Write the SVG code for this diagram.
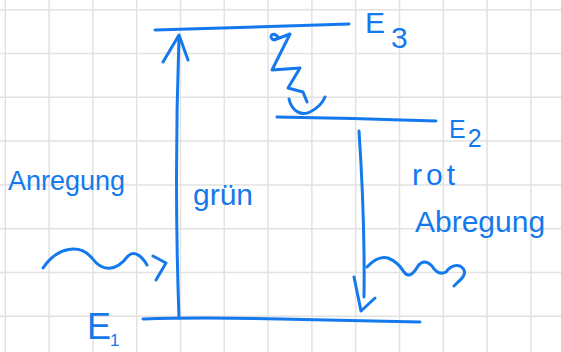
<svg xmlns="http://www.w3.org/2000/svg" width="561" height="352" viewBox="0 0 561 352">
<style>
.grid line{stroke:#e2e2e2;stroke-width:1.5}
.ink{fill:none;stroke:#1479ec;stroke-width:3;stroke-linecap:round;stroke-linejoin:round}
.lbl{fill:#1479ec;font-family:"Liberation Sans",Arial,sans-serif}
</style>
<rect width="561" height="352" fill="#ffffff"/>
<g class="grid">
<line x1="5.3" y1="0" x2="5.3" y2="352"/><line x1="49.1" y1="0" x2="49.1" y2="352"/><line x1="92.9" y1="0" x2="92.9" y2="352"/><line x1="136.7" y1="0" x2="136.7" y2="352"/><line x1="180.5" y1="0" x2="180.5" y2="352"/><line x1="224.3" y1="0" x2="224.3" y2="352"/><line x1="268.1" y1="0" x2="268.1" y2="352"/><line x1="311.9" y1="0" x2="311.9" y2="352"/><line x1="355.7" y1="0" x2="355.7" y2="352"/><line x1="399.5" y1="0" x2="399.5" y2="352"/><line x1="443.3" y1="0" x2="443.3" y2="352"/><line x1="487.1" y1="0" x2="487.1" y2="352"/><line x1="530.9" y1="0" x2="530.9" y2="352"/>
<line x1="0" y1="9.7" x2="561" y2="9.7"/><line x1="0" y1="53.5" x2="561" y2="53.5"/><line x1="0" y1="97.3" x2="561" y2="97.3"/><line x1="0" y1="141.1" x2="561" y2="141.1"/><line x1="0" y1="184.9" x2="561" y2="184.9"/><line x1="0" y1="228.7" x2="561" y2="228.7"/><line x1="0" y1="272.5" x2="561" y2="272.5"/><line x1="0" y1="316.3" x2="561" y2="316.3"/>
</g>
<g id="E3">
<path class="ink" d="M155,30 Q250,27 349,24"/>
<text class="lbl" x="365" y="33" font-size="30">E<tspan dx="6" dy="15">3</tspan></text>
</g>
<g id="E2">
<path class="ink" d="M277,117 Q350,118 436,121"/>
<text class="lbl" x="449" y="138" font-size="25">E<tspan dx="2" dy="9">2</tspan></text>
</g>
<g id="E1">
<path class="ink" d="M143,319 Q200,317 280,319 T420,322"/>
<text class="lbl" x="87" y="339" font-size="36">E<tspan dx="-1" dy="7" font-size="17">1</tspan></text>
</g>
<g id="connectors">
<path class="ink" d="M179,318 Q174,180 179,36"/>
<path class="ink" d="M163,62 L179,35 L188,60"/>
<path class="ink" d="M359,131 Q365,220 364,297"/>
<path class="ink" d="M354,277 L361,311 L375,298"/>
<path class="ink" d="M278,37 C272,30 268,38 274,40 L290,34 L272,70 L300,68 L288,88 L303,92 L307,102"/>
<path class="ink" d="M289,99 C292,112 302,116 310,112 C318,108 323,102 325,97"/>
<path class="ink" d="M43,268 C58,246 80,244 92,258 C102,272 116,272 128,256 C134,250 142,256 147,265"/>
<path class="ink" d="M153,256 L166,263 L156,280"/>
<path class="ink" d="M367,267 Q378,255 388,258 Q398,262 404,272 Q410,280 418,266 Q424,258 432,266 Q438,276 446,272 Q452,264 460,266 Q470,272 458,282 L454,286"/>
</g>
<g id="labels">
<text class="lbl" x="8" y="190" font-size="27">Anregung</text>
<text class="lbl" x="193" y="205" font-size="30">grün</text>
<text class="lbl" x="412" y="185" font-size="30" letter-spacing="4">rot</text>
<text class="lbl" x="415" y="232" font-size="30">Abregung</text>
</g>
</svg>
